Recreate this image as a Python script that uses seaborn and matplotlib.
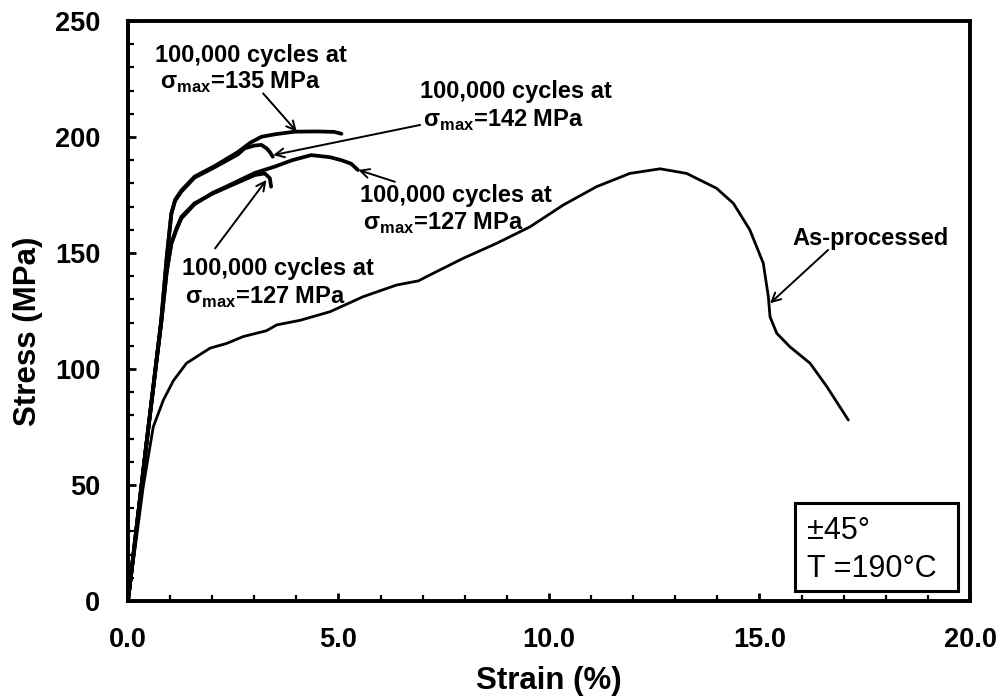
import pandas as pd
import matplotlib.pyplot as plt
import seaborn as sns
from matplotlib.patches import Rectangle
from matplotlib.ticker import MultipleLocator, FormatStrFormatter

# As-processed tensile curve
strain_as = [0, 0.2, 0.36, 0.60, 0.84, 1.08, 1.39, 1.95, 2.34, 2.74, 3.29, 3.53, 4.09, 4.80,
             5.59, 6.38, 6.9, 7.09, 7.96, 8.76, 9.55, 10.34, 11.13, 11.92, 12.64, 13.27,
             13.98, 14.38, 14.77, 15.09, 15.21, 15.25, 15.41, 15.72, 16.2, 16.6, 17.11]
stress_as = [0, 27, 49, 75, 86.6, 95, 102.5, 109, 111, 114, 116.5, 119, 121, 124.7,
             131.2, 136.2, 138, 139.8, 147.7, 154.2, 161.3, 170.7, 178.6, 184.3, 186.3, 184.3,
             177.9, 171.4, 160, 145.6, 131.2, 122.5, 115.4, 109.6, 102.5, 92.4, 78]

# Residual strength after 100,000 cycles
strain_135 = [0, 0.42, 0.79, 0.92, 1.03, 1.12, 1.27, 1.58, 2.06, 2.61, 2.9, 3.17, 3.5,
              3.96, 4.5, 4.9, 5.07]
stress_135 = [0, 65, 121, 148, 167, 173, 177, 182.9, 187.5, 193.5, 197.5, 200.1, 201.2,
              202.3, 202.4, 202.2, 201.4]

strain_142 = [0, 0.42, 0.79, 0.92, 1.03, 1.12, 1.27, 1.58, 2.06, 2.61, 2.77, 3.0, 3.17,
              3.3, 3.37, 3.44]
stress_142 = [0, 65, 121, 148, 167, 172.5, 176.5, 182.5, 187, 192.5, 195.1, 196.3, 196.6,
              195, 193.5, 191.5]

strain_127a = [0, 0.42, 0.79, 0.92, 1.03, 1.15, 1.27, 1.58, 2.0, 2.38, 3.01, 3.25,
               3.37, 3.40]
stress_127a = [0, 65, 120, 142, 154.2, 160.5, 165.6, 171.4, 175.5, 178.6, 183.6, 184.3,
               182.2, 178.6]

strain_127b = [0, 0.42, 0.79, 0.92, 1.03, 1.15, 1.27, 1.58, 2.0, 2.38, 3.01, 3.48,
               3.9, 4.35, 4.8, 5.07, 5.3, 5.46]
stress_127b = [0, 65, 120, 142, 154, 160, 165, 171, 175.8, 179, 184.5, 187.2,
               190, 192.2, 191.3, 190, 188.5, 185.8]

x_ticks = [0, 5, 10, 15, 20]
y_ticks = [0, 50, 100, 150, 200, 250]

sns.set_theme(style="ticks")
plt.rcParams["font.family"] = ["Liberation Sans", "DejaVu Sans"]
plt.rcParams["font.weight"] = "bold"
plt.rcParams["mathtext.fontset"] = "custom"
plt.rcParams["mathtext.rm"] = "Liberation Sans"
plt.rcParams["text.color"] = "black"
plt.rcParams["axes.labelcolor"] = "black"
plt.rcParams["xtick.color"] = "black"
plt.rcParams["ytick.color"] = "black"

fig = plt.figure(figsize=(10.03, 6.96), dpi=100)
ax = fig.add_axes([0.1276, 0.1365, 0.8395, 0.8333])

curves = [
    (strain_135, stress_135, 2.7),
    (strain_142, stress_142, 2.7),
    (strain_127a, stress_127a, 2.7),
    (strain_127b, stress_127b, 2.7),
    (strain_as, stress_as, 2.0),
]
for xs, ys, lw in curves:
    df = pd.DataFrame({"Strain": xs, "Stress": ys})
    sns.lineplot(data=df, x="Strain", y="Stress", sort=False, estimator=None,
                 color="black", lw=lw, ax=ax)

ax.set_xlim(0, 20)
ax.set_ylim(0, 250)
ax.set_xticks(x_ticks)
ax.set_yticks(y_ticks)
ax.xaxis.set_minor_locator(MultipleLocator(1))
ax.yaxis.set_minor_locator(MultipleLocator(10))
ax.xaxis.set_major_formatter(FormatStrFormatter("%.1f"))
ax.tick_params(which="major", direction="in", length=6, width=2, labelsize=19.5,
               color="black", labelcolor="black")
ax.tick_params(which="minor", direction="in", length=4, width=1.6, color="black")
ax.tick_params(axis="x", pad=19)
ax.tick_params(axis="y", pad=20)
for lab in ax.get_xticklabels() + ax.get_yticklabels():
    lab.set_fontweight("bold")
for sp in ax.spines.values():
    sp.set_visible(True)
    sp.set_linewidth(2.8)
    sp.set_color("black")

ax.set_xlabel("Strain (%)", fontsize=22.5, fontweight="bold", color="black")
ax.set_ylabel("Stress (MPa)", fontsize=22.5, fontweight="bold", color="black")
ax.xaxis.set_label_coords(0.5, -0.112)
ax.yaxis.set_label_coords(-0.101, 0.465)

fs = 17


def label(x1, y1, x2, y2, smax):
    ax.text(x1, y1, "100,000 cycles at", fontsize=fs, fontweight="bold",
            ha="left", va="baseline")
    ax.text(x2, y2, "σ$_{\\mathrm{max}}$=" + smax + " MPa", fontsize=fs,
            fontweight="bold", ha="left", va="baseline")


def arrow(tip, start):
    ax.annotate("", xy=tip, xytext=start,
                arrowprops=dict(arrowstyle="->", color="black", lw=1.4,
                                shrinkA=0, shrinkB=0, mutation_scale=16))


label(0.64, 232.5, 0.76, 220.6, "135")
label(6.94, 216.7, 7.01, 204.4, "142")
label(5.51, 172.1, 5.59, 159.9, "127")
label(1.28, 140.5, 1.35, 128.3, "127")
ax.text(15.79, 153.4, "As-processed", fontsize=fs, fontweight="bold",
        ha="left", va="baseline")

arrow((4.01, 202.3), (3.21, 218.8))
arrow((3.45, 192.2), (6.94, 205.2))
arrow((5.47, 185.8), (6.34, 180.7))
arrow((3.29, 181.5), (2.07, 152.0))
arrow((15.25, 128.3), (16.63, 151.3))

ax.add_patch(Rectangle((15.84, 4.4), 3.88, 38.0, fill=False, lw=2.2,
                       edgecolor="black", zorder=5))
ax.text(16.12, 26.6, "±45°", fontsize=22, fontweight="normal", ha="left",
        va="baseline")
ax.text(16.12, 10.5, "T =190°C", fontsize=22, fontweight="normal", ha="left",
        va="baseline")

fig.savefig("out.png", dpi=100, facecolor="white")
